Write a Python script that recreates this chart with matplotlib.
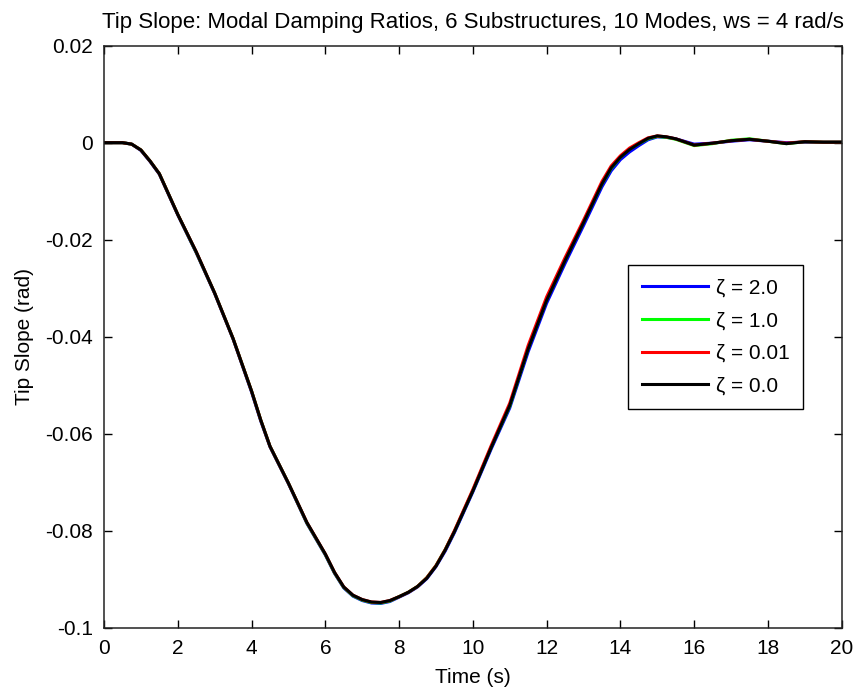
import matplotlib
matplotlib.use("Agg")
import matplotlib.pyplot as plt

plt.rcParams['font.family'] = ['Liberation Sans', 'DejaVu Sans']

# Time samples (s)
time = [0, 0.5, 0.75, 1.0, 1.25, 1.5, 1.75, 2.0,
        2.5, 3.0, 3.5, 4.0, 4.25, 4.5, 4.75, 5.0,
        5.5, 6.0, 6.25, 6.5, 6.75, 7.0, 7.25, 7.5, 7.75,
        8.0, 8.25, 8.5, 8.75, 9.0, 9.25, 9.5,
        10.0, 10.5, 11.0, 11.5, 12.0, 12.5, 13.0, 13.5,
        13.75, 14.0, 14.25, 14.5, 14.75, 15.0, 15.25, 15.5,
        16.0, 16.5, 17.0, 17.5, 18.0, 18.5, 19.0, 19.5, 20.0]

# Tip slope responses (rad) for each modal damping ratio
slope_z2 = [0, 0, -0.0003, -0.0016, -0.0039, -0.0065, -0.0107, -0.0149,
            -0.0227, -0.0311, -0.0405, -0.0514, -0.0574, -0.0627, -0.0665, -0.0703,
            -0.0785, -0.0850, -0.0888, -0.0918, -0.0935, -0.0944, -0.0949, -0.0950, -0.0946,
            -0.0937, -0.0928, -0.0916, -0.0899, -0.0874, -0.0842, -0.0804,
            -0.0720, -0.0631, -0.0547, -0.0431, -0.0331, -0.0249, -0.0171, -0.0091,
            -0.0058, -0.0035, -0.0019, -0.0006, 0.0006, 0.0012, 0.0011, 0.0008,
            -0.0003, -0.0001, 0.0003, 0.0006, 0.0003, 0.0000, 0.0001, 0.0001, 0.0001]
slope_z1 = [0, 0, -0.0003, -0.0015, -0.0038, -0.0064, -0.0106, -0.0148,
            -0.0226, -0.0310, -0.0404, -0.0512, -0.0572, -0.0626, -0.0664, -0.0702,
            -0.0784, -0.0849, -0.0887, -0.0917, -0.0934, -0.0943, -0.0948, -0.0949, -0.0945,
            -0.0936, -0.0927, -0.0915, -0.0897, -0.0872, -0.0839, -0.0801,
            -0.0717, -0.0627, -0.0543, -0.0424, -0.0324, -0.0242, -0.0164, -0.0085,
            -0.0053, -0.0030, -0.0013, -0.0002, 0.0008, 0.0013, 0.0011, 0.0007,
            -0.0006, -0.0002, 0.0005, 0.0008, 0.0003, -0.0002, 0.0002, 0.0001, 0.0001]
slope_z001 = [0, 0, -0.0003, -0.0015, -0.0038, -0.0064, -0.0106, -0.0148,
              -0.0225, -0.0310, -0.0404, -0.0512, -0.0572, -0.0626, -0.0664, -0.0702,
              -0.0783, -0.0848, -0.0886, -0.0916, -0.0933, -0.0942, -0.0947, -0.0948, -0.0944,
              -0.0936, -0.0927, -0.0915, -0.0897, -0.0872, -0.0839, -0.0800,
              -0.0715, -0.0624, -0.0537, -0.0418, -0.0318, -0.0237, -0.0160, -0.0080,
              -0.0048, -0.0027, -0.0011, 0.0000, 0.0010, 0.0014, 0.0012, 0.0008,
              -0.0005, -0.0001, 0.0004, 0.0007, 0.0003, -0.0001, 0.0002, 0.0001, 0.0001]
slope_z0 = [0, 0, -0.0003, -0.0015, -0.0038, -0.0064, -0.0106, -0.0148,
            -0.0225, -0.0310, -0.0404, -0.0512, -0.0572, -0.0626, -0.0664, -0.0702,
            -0.0783, -0.0848, -0.0886, -0.0916, -0.0933, -0.0942, -0.0947, -0.0948, -0.0944,
            -0.0936, -0.0927, -0.0915, -0.0898, -0.0873, -0.0840, -0.0802,
            -0.0718, -0.0628, -0.0542, -0.0425, -0.0325, -0.0243, -0.0165, -0.0085,
            -0.0052, -0.0030, -0.0014, -0.0002, 0.0009, 0.0014, 0.0012, 0.0008,
            -0.0005, -0.0001, 0.0004, 0.0007, 0.0003, -0.0002, 0.0002, 0.0001, 0.0001]

labels = ['ζ = 2.0', 'ζ = 1.0', 'ζ = 0.01', 'ζ = 0.0']
colors = ['#0000ff', '#00ff00', '#ff0000', '#000000']
series = [slope_z2, slope_z1, slope_z001, slope_z0]

xticks = [0, 2, 4, 6, 8, 10, 12, 14, 16, 18, 20]
yticks = [0.02, 0, -0.02, -0.04, -0.06, -0.08, -0.1]
ytick_labels = ['0.02', '0', '-0.02', '-0.04', '-0.06', '-0.08', '-0.1']

fig = plt.figure(figsize=(8.56, 6.91), dpi=100)
ax = fig.add_axes([0.1215, 0.0916, 0.8618, 0.8423])

for y, c, lab in zip(series, colors, labels):
    ax.plot(time, y, color=c, linewidth=2.2, label=lab,
            solid_joinstyle='round')

ax.set_xlim(0, 20)
ax.set_ylim(-0.1, 0.02)
ax.set_xticks(xticks)
ax.set_xticklabels([str(v) for v in xticks])
ax.set_yticks(yticks)
ax.set_yticklabels(ytick_labels)

ax.tick_params(direction='in', length=6, width=1, top=True, right=True,
               labelsize=15, pad=8, colors='black')
for sp in ax.spines.values():
    sp.set_linewidth(1.1)
    sp.set_color('#222222')

ax.set_title('Tip Slope: Modal Damping Ratios, 6 Substructures, 10 Modes, ws = 4 rad/s',
             fontsize=16, pad=13)
ax.set_xlabel('Time (s)', fontsize=15, labelpad=7)
ax.set_ylabel('Tip Slope (rad)', fontsize=15, labelpad=8)

leg = ax.legend(loc='upper left', bbox_to_anchor=(0.7107, 0.6232),
                borderaxespad=0, fancybox=False, edgecolor='black',
                fontsize=15, handlelength=3.2, handletextpad=0.35,
                labelspacing=0.66, borderpad=0.65, framealpha=1)
leg.get_frame().set_linewidth(1.0)

fig.savefig('out.png', dpi=100)
